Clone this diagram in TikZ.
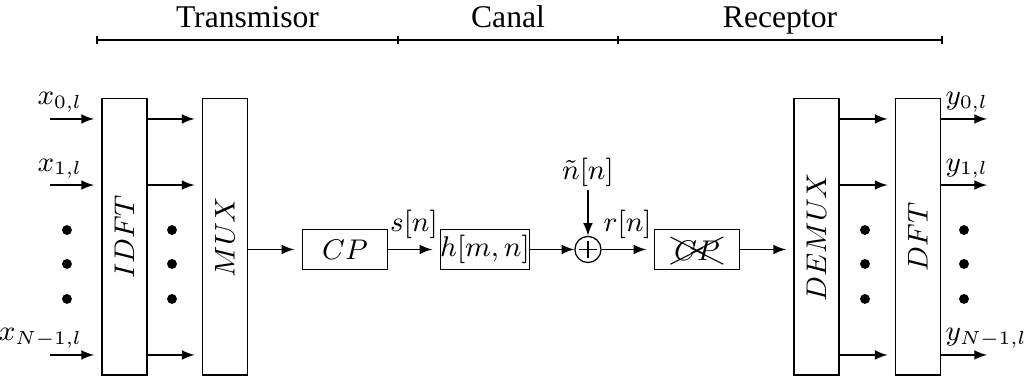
\documentclass[tikz,border=0pt]{standalone}
\usepackage{fontspec}
\setmainfont{Liberation Serif}
\usepackage{amsmath,amssymb}
\usepackage{cancel}
\usepackage{tikz}
\usetikzlibrary{positioning}

\tikzset{
  tallblock/.style={draw, minimum width=0.5cm, minimum height=3.07cm, inner sep=0pt},
  block/.style={draw, minimum width=0.95cm, minimum height=0.45cm, inner sep=0pt},
  sumnode/.style={draw, circle, minimum size=0.29cm, inner sep=0pt,
    path picture={\draw (path picture bounding box.center) ++(0,0.095) -- ++(0,-0.19)
      (path picture bounding box.center) ++(-0.095,0) -- ++(0.19,0);}},
  dot/.style={circle, fill, minimum size=0.11cm, inner sep=0pt},
  stage/.style={anchor=base, yshift=4pt, font=\normalsize},
  arr/.style={->, shorten >=2.3pt},
}

\begin{document}
\begin{tikzpicture}[>=latex, every node/.style={font=\small}]
    \useasboundingbox (0,0) rectangle (11.4,4.2);
    % stages on top
    \coordinate (t0) at (1.078,3.756);
    \coordinate (t1) at (4.422,3.756);
    \coordinate (t2) at (6.867,3.756);
    \coordinate (t3) at (10.467,3.756);
    \draw (t0) -- (t3);
    \foreach \t in {t0,t1,t2,t3}
        \draw ([yshift=-1.2pt]\t) -- ([yshift=1.2pt]\t);
    \path (t0) -- (t1) node[midway, stage] (tx) {Transmisor};
    \path (t1) -- (t2) node[midway, stage] (ch) {Canal};
    \path (t2) -- (t3) node[midway, stage] (rx) {Receptor};

    \node[tallblock] (idft) at (1.383,1.567) {\rotatebox{90}{$IDFT$}};
    \node[tallblock] (mux) at (2.5,1.567) {\rotatebox{90}{$MUX$}};
    \node[block] (cp) at (3.833,1.428) {$CP$};
    \node[block] (chan) at (5.389,1.428) {$h[m,n]$};
    \node[sumnode] (sum) at (6.533,1.428) {};
    \node[block] (rcp) at (7.744,1.428) {$\xcancel{CP}$};
    \node[tallblock] (demux) at (9.072,1.567) {\rotatebox{90}{$DEMUX$}};
    \node[tallblock] (dft) at (10.2,1.567) {\rotatebox{90}{$DFT$}};

    % subcarrier rows
    \foreach \i/\y/\k in {0/2.878/0, 1/2.144/1, 2/0.256/{N-1}} {
        \coordinate (in\i) at (0.556,\y);
        \coordinate (out\i) at (10.967,\y);
        \draw[arr] (in\i) -- (idft.west |- in\i);
        \draw[arr] (idft.east |- in\i) -- (mux.west |- in\i);
        \draw[arr] (demux.east |- in\i) -- (dft.west |- in\i);
        \draw[->] (dft.east |- in\i) -- (out\i);
        \node[anchor=south east, inner sep=0pt] (x\i) at (0.92,\y+0.07) {$x_{\k,l}$};
        \node[anchor=south west, inner sep=0pt] (y\i) at (10.5,\y+0.07) {$y_{\k,l}$};
    }
    \foreach \x [count=\i] in {0.744,1.911,9.611,10.711}
        \foreach \y [count=\j] in {1.644,1.267,0.878}
            \node[dot] (dot\i\j) at (\x,\y) {};

    \draw[arr] (mux.east |- cp) -- (cp);
    \draw[arr] (cp) -- node[above] (sn) {$s[n]$} (chan);
    \draw[->] (chan) -- (sum);
    \node[anchor=south, inner sep=1pt] (noise) at (6.533,2.089) {$\tilde{n}[n]$};
    \draw[->] (noise) -- (sum);
    \draw[arr] (sum) -- node[above] (rn) {$r[n]$} (rcp);
    \draw[arr] (rcp) -- (rcp -| demux.west);
\end{tikzpicture}
\end{document}
